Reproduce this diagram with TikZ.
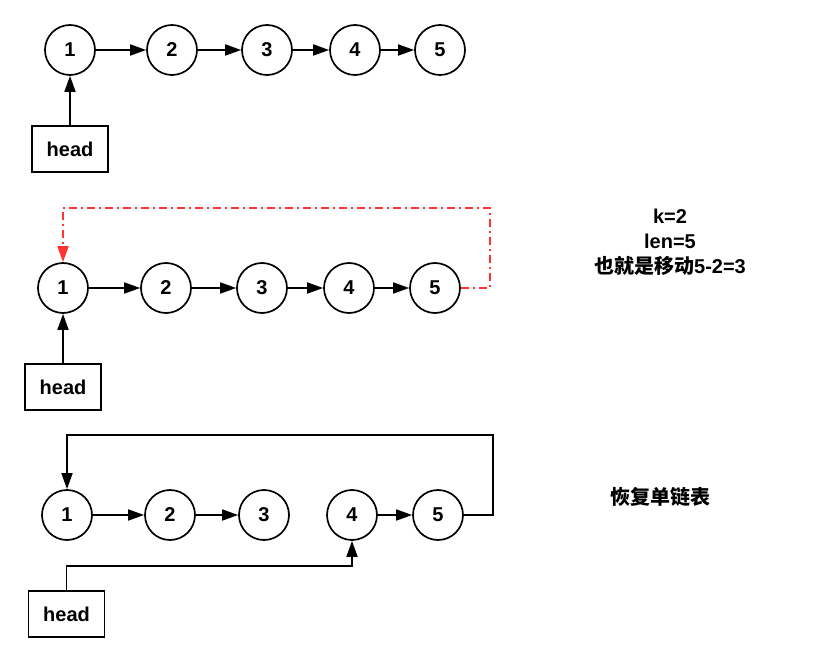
\documentclass[tikz,border=0pt]{standalone}
\usepackage{fontspec}
\setmainfont{Liberation Sans}
\newfontfamily\cjk{Noto Sans CJK SC}
\usetikzlibrary{arrows.meta}
\begin{document}
\begin{tikzpicture}[x=1pt,y=-1pt,line width=1.7pt,
  nd/.style={circle,draw,minimum size=50pt,inner sep=0pt,font=\fontsize{20}{22}\selectfont\bfseries},
  hd/.style={draw,minimum width=76pt,minimum height=46pt,inner sep=0pt,font=\fontsize{20}{22}\selectfont\bfseries},
  lk/.style={-{Triangle[length=16pt,width=11pt]}},
  note/.style={align=center,font=\fontsize{20}{25}\selectfont\bfseries}]
  \useasboundingbox (0,0) rectangle (833,663);
  % list
  \node[nd] (a1) at (70,50) {1};
  \node[nd] (a2) at (172,50) {2};
  \node[nd] (a3) at (267,50) {3};
  \node[nd] (a4) at (355,50) {4};
  \node[nd] (a5) at (440,50) {5};
  \node[hd] (ha) at (70,149) {head};
  \draw[lk] (a1) -- (a2);
  \draw[lk] (a2) -- (a3);
  \draw[lk] (a3) -- (a4);
  \draw[lk] (a4) -- (a5);
  \draw[lk] (ha) -- (a1);
  % ring
  \node[nd] (b1) at (63,288) {1};
  \node[nd] (b2) at (166,288) {2};
  \node[nd] (b3) at (262,288) {3};
  \node[nd] (b4) at (349,288) {4};
  \node[nd] (b5) at (435,288) {5};
  \node[hd] (hb) at (63,387) {head};
  \draw[lk] (b1) -- (b2);
  \draw[lk] (b2) -- (b3);
  \draw[lk] (b3) -- (b4);
  \draw[lk] (b4) -- (b5);
  \draw[lk] (hb) -- (b1);
  \coordinate (rb) at (490,208);
  \draw[lk,color={rgb,255:red,255;green,51;blue,51},dash pattern=on 8pt off 4pt on 2pt off 4pt]
    (b5.east) -| (rb) -| (b1.north);
  \node[note] (kl) at (670,242) {k=2\\len=5\\{\cjk 也就是移动}5-2=3};
  % cut
  \node[nd] (c1) at (67,515) {1};
  \node[nd] (c2) at (170,515) {2};
  \node[nd] (c3) at (264,515) {3};
  \node[nd] (c4) at (352,515) {4};
  \node[nd] (c5) at (438,515) {5};
  \node[hd] (hc) at (66.5,614) {head};
  \draw[lk] (c1) -- (c2);
  \draw[lk] (c2) -- (c3);
  \draw[lk] (c4) -- (c5);
  \coordinate (rc) at (493,435);
  \coordinate (hk) at (66.5,566);
  \draw[lk] (c5.east) -| (rc) -| (c1.north);
  \draw[lk] (hc.north) -- (hk) -| (c4.south);
  \node[note] (rs) at (660,497) {\cjk 恢复单链表};
\end{tikzpicture}
\end{document}
